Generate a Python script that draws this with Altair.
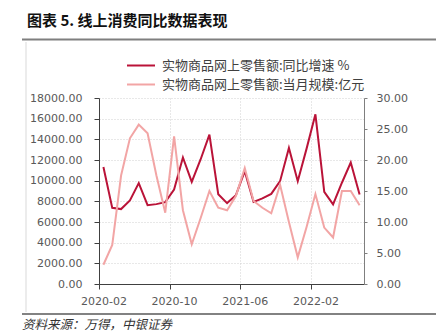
import altair as alt
import pandas as pd

# ---- data ----
months = ["2020-02", "2020-03", "2020-04", "2020-05", "2020-06", "2020-07",
          "2020-08", "2020-09", "2020-10", "2020-11", "2020-12", "2021-01",
          "2021-02", "2021-03", "2021-04", "2021-05", "2021-06", "2021-07",
          "2021-08", "2021-09", "2021-10", "2021-11", "2021-12", "2022-01",
          "2022-02", "2022-03", "2022-04", "2022-05", "2022-06", "2022-07"]
# dark line, left axis
dark_vals = [11330, 7370, 7250, 8090, 9760, 7630, 7730, 7920, 9150, 12240,
             9880, 12050, 14460, 8690, 7830, 8600, 10920, 7950, 8280, 8720,
             9950, 13170, 9950, 13100, 16420, 8920, 7700, 9800, 11760, 8670]
# light line, right axis
light_vals = [3.1, 6.3, 17.5, 23.5, 25.7, 24.3, 17.5, 11.5, 23.8, 11.9,
              6.4, 10.6, 15.0, 12.3, 11.9, 14.2, 18.7, 13.4, 12.3, 11.4,
              16.0, 10.0, 4.3, 9.2, 14.5, 9.1, 7.5, 15.0, 15.0, 12.7]
x_tick_labels = ["2020-02", "2020-10", "2021-06", "2022-02"]
left_ticks = [0, 2000, 4000, 6000, 8000, 10000, 12000, 14000, 16000, 18000]
right_ticks = [0, 5, 10, 15, 20, 25, 30]

label_dark = "实物商品网上零售额:同比增速 %"
label_light = "实物商品网上零售额:当月规模:亿元"
title_text = "图表 5. 线上消费同比数据表现"
source_text = "资料来源：万得，中银证券"

DARK = "#BA1338"
LIGHT = "#F2A5A5"
CJK = "Noto Sans CJK SC"
NUM = "DejaVu Sans"

n = len(months)
df_dark = pd.DataFrame({"i": list(range(n)), "v": dark_vals, "s": [label_dark] * n})
df_light = pd.DataFrame({"i": list(range(n)), "v": light_vals, "s": [label_light] * n})

W, H = 265, 186
half = W / n / 2.0

tick_idx = [months.index(m) for m in x_tick_labels]
label_arr = "[" + ",".join("'%s'" % m for m in months) + "]"

x_enc = alt.X(
    "i:Q",
    scale=alt.Scale(domain=[-0.5, n - 0.5], nice=False, zero=False),
    axis=alt.Axis(
        values=tick_idx, labelExpr=label_arr + "[datum.value]", title=None,
        tickOffset=-half, labelOffset=half, tickSize=5, tickColor="#404040",
        domainColor="#404040", labelFont=NUM, labelFontSize=11,
        labelColor="#595959", labelPadding=6, grid=True, gridDash=[1, 2],
        gridColor="#d0d0d0", labelAngle=0,
    ),
)

color_enc = alt.Color(
    "s:N",
    scale=alt.Scale(domain=[label_dark, label_light], range=[DARK, LIGHT]),
    legend=alt.Legend(
        orient="none", legendX=0, legendY=-39, title=None, direction="vertical",
        symbolType="M-2.8,0L2.8,0", symbolSize=100, symbolStrokeWidth=2,
        symbolOffset=35.5, labelOffset=14.5, labelFont=CJK, labelFontSize=13,
        labelColor="#404040", rowPadding=5, padding=0, labelLimit=400,
    ),
)

dark = alt.Chart(df_dark).mark_line(strokeWidth=2).encode(
    x=x_enc,
    y=alt.Y("v:Q", scale=alt.Scale(domain=[0, 18000], nice=False),
            axis=alt.Axis(orient="left", values=left_ticks, format=".2f", title=None,
                          tickSize=5, tickColor="#404040", domainColor="#404040",
                          labelFont=NUM, labelFontSize=11, labelColor="#595959",
                          labelPadding=12, grid=True, gridDash=[1, 2],
                          gridColor="#d0d0d0")),
    color=color_enc,
)

light = alt.Chart(df_light).mark_line(strokeWidth=2).encode(
    x=x_enc,
    y=alt.Y("v:Q", scale=alt.Scale(domain=[0, 30], nice=False),
            axis=alt.Axis(orient="right", values=right_ticks, format=".2f", title=None,
                          tickSize=3, tickColor="#7f7f7f", domainColor="#7f7f7f",
                          labelFont=NUM, labelFontSize=11, labelColor="#595959",
                          labelPadding=9, grid=False)),
    color=color_enc,
)

one = pd.DataFrame({"t": [title_text]})
title = alt.Chart(one).mark_text(
    align="left", baseline="middle", font=CJK, fontSize=15, fontWeight="bold",
    color="#111111",
).encode(x=alt.value(-72), y=alt.value(-77), text="t:N")

src = alt.Chart(pd.DataFrame({"t": [source_text]})).mark_text(
    align="left", baseline="middle", font=CJK, fontSize=12.5, fontStyle="italic",
    color="#333333",
).encode(x=alt.value(-77), y=alt.value(227), text="t:N")

rule_top = alt.Chart(one).mark_rule(color="#7f7f7f", strokeWidth=2).encode(
    x=alt.value(-77), x2=alt.value(337), y=alt.value(-58.5))
rule_bottom = alt.Chart(one).mark_rule(color="#595959", strokeWidth=1.5).encode(
    x=alt.value(-77), x2=alt.value(337), y=alt.value(216))
rule_side = alt.Chart(one).mark_rule(color="#d9d9d9", strokeWidth=1).encode(
    x=alt.value(-73), y=alt.value(-56), y2=alt.value(214))

chart = alt.layer(dark, light, title, src, rule_top, rule_bottom, rule_side).resolve_scale(
    y="independent"
).properties(
    width=W, height=H,
    autosize=alt.AutoSizeParams(type="none"),
    padding={"left": 99, "top": 98, "right": 72, "bottom": 48},
    background="white",
).configure_view(strokeWidth=0)

chart.save("out.html", embed_options={"renderer": "svg", "actions": False})
